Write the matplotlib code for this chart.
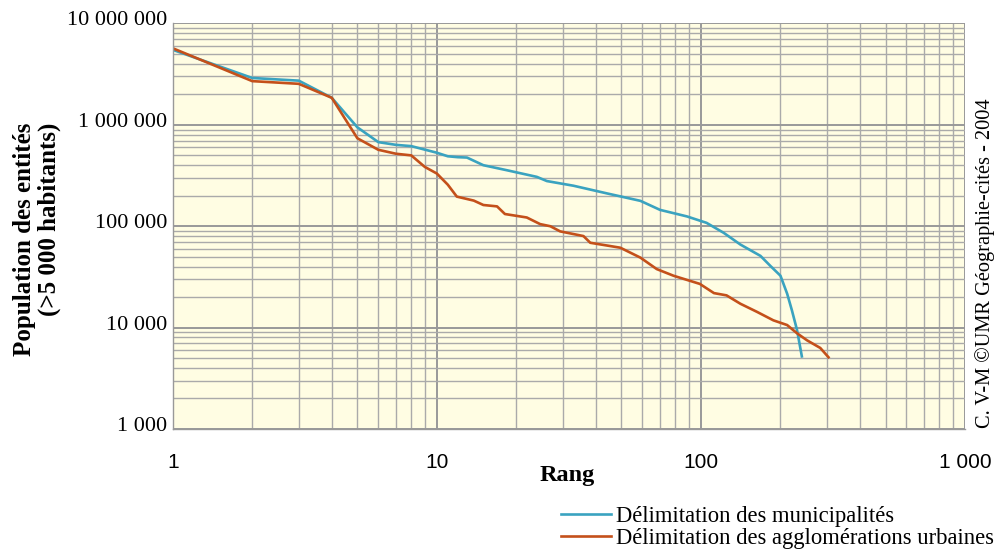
import matplotlib.pyplot as plt
import matplotlib.transforms as mtransforms
from matplotlib.lines import Line2D
from matplotlib.ticker import FixedLocator, LogLocator, NullFormatter

# rang / population
rang_muni = [1, 2, 3, 4, 5, 6, 7, 8, 10, 11, 12, 13.0, 15.0, 18.4, 23.9, 26.1, 32.9,
             44, 59, 70, 88.5, 105, 122, 141, 168, 183, 200, 212, 221, 231, 241]
pop_muni = [5500000, 2900000, 2730000, 1850000, 946000, 676000, 635000, 617000,
            531000, 490000, 480000, 476000, 400000, 357000, 307000, 279000, 251000,
            211000, 178000, 145000, 125000, 108000, 86000, 66000, 51000, 40700,
            32500, 21600, 14800, 9500, 5200]

rang_agglo = [1, 2, 3, 4, 5, 6, 7, 8, 9, 10, 11, 11.9, 13.8, 15.0, 16.9, 18.1, 21.9,
              24.6, 26.9, 29.3, 35.9, 38.1, 49.5, 59, 68, 78.7, 99, 112, 125, 141,
              163, 188, 212, 231, 252, 283, 304]
pop_agglo = [5700000, 2700000, 2540000, 1850000, 738000, 568000, 519000, 500000,
             385000, 331000, 257000, 196000, 179000, 162000, 157000, 132000, 122000,
             105000, 100000, 89000, 80000, 68700, 61400, 49000, 37800, 32500, 27000,
             21900, 20800, 17200, 14300, 11800, 10600, 8800, 7500, 6300, 5100]

xticks = [1, 10, 100, 1000]
xlabels = ['1', '10', '100', '1 000']
yticks = [1000, 10000, 100000, 1000000, 10000000]
ylabels = ['1 000', '10 000', '100 000', '1 000 000', '10 000 000']

bleu = '#3aa3c0'
orange = '#c4501a'

plt.rcParams['font.family'] = ['Liberation Serif', 'DejaVu Serif']

fig = plt.figure(figsize=(9.98, 5.58), dpi=100)
ax = fig.add_axes([0.1731, 0.2312, 0.7939, 0.7267])
ax.set_facecolor('#fffde3')

ax.plot(rang_muni, pop_muni, color=bleu, lw=1.9)
ax.plot(rang_agglo, pop_agglo, color=orange, lw=1.9)

ax.set_xscale('log')
ax.set_yscale('log')
ax.set_xlim(1, 1000)
ax.set_ylim(1000, 10000000)

ax.xaxis.set_major_locator(FixedLocator(xticks))
ax.set_xticklabels(xlabels, family=['Liberation Sans', 'DejaVu Sans'], fontsize=15)
ax.yaxis.set_major_locator(FixedLocator(yticks))
ax.set_yticklabels(ylabels, fontsize=16)
ax.xaxis.set_minor_locator(LogLocator(base=10, subs=range(2, 10)))
ax.yaxis.set_minor_locator(LogLocator(base=10, subs=range(2, 10)))
ax.xaxis.set_minor_formatter(NullFormatter())
ax.yaxis.set_minor_formatter(NullFormatter())

ax.grid(True, which='major', color='#999999', lw=1.4)
ax.grid(True, which='minor', color='#aaaaaa', lw=1.0)
ax.set_axisbelow(True)
ax.tick_params(which='both', length=0)
ax.tick_params(axis='x', pad=17)
ax.tick_params(axis='y', pad=4)
for s in ax.spines.values():
    s.set_color('#999999')
    s.set_linewidth(1.0)
ax.spines['top'].set_visible(False)
ax.spines['right'].set_visible(False)

# les étiquettes de l'axe y sont un peu au-dessus des lignes
decal = mtransforms.ScaledTranslation(0, 5 / 100, fig.dpi_scale_trans)
for lab in ax.get_yticklabels():
    lab.set_transform(lab.get_transform() + decal)

fig.text(0.5681, 0.147, 'Rang', ha='center', va='center', fontsize=17.5,
         fontweight='bold')
fig.text(0.037, 0.5717, 'Population des entités\n(>5 000 habitants)', rotation=90,
         ha='center', va='center', multialignment='right', fontsize=18,
         fontweight='bold', linespacing=1.1)

fig.text(0.987, 0.5287, 'C. V-M ©UMR Géographie-cités - 2004', rotation=90,
         ha='center', va='center', fontsize=14.7)

poignees = [Line2D([], [], color=bleu, lw=1.9), Line2D([], [], color=orange, lw=1.9)]
fig.legend(poignees, ['Délimitation des municipalités',
                      'Délimitation des agglomérations urbaines'],
           loc='upper left', bbox_to_anchor=(0.562, 0.093), frameon=False,
           fontsize=16.3, handlelength=2.2, handletextpad=0.25, labelspacing=0.02,
           borderpad=0, borderaxespad=0)

fig.savefig('out.png', dpi=100)
